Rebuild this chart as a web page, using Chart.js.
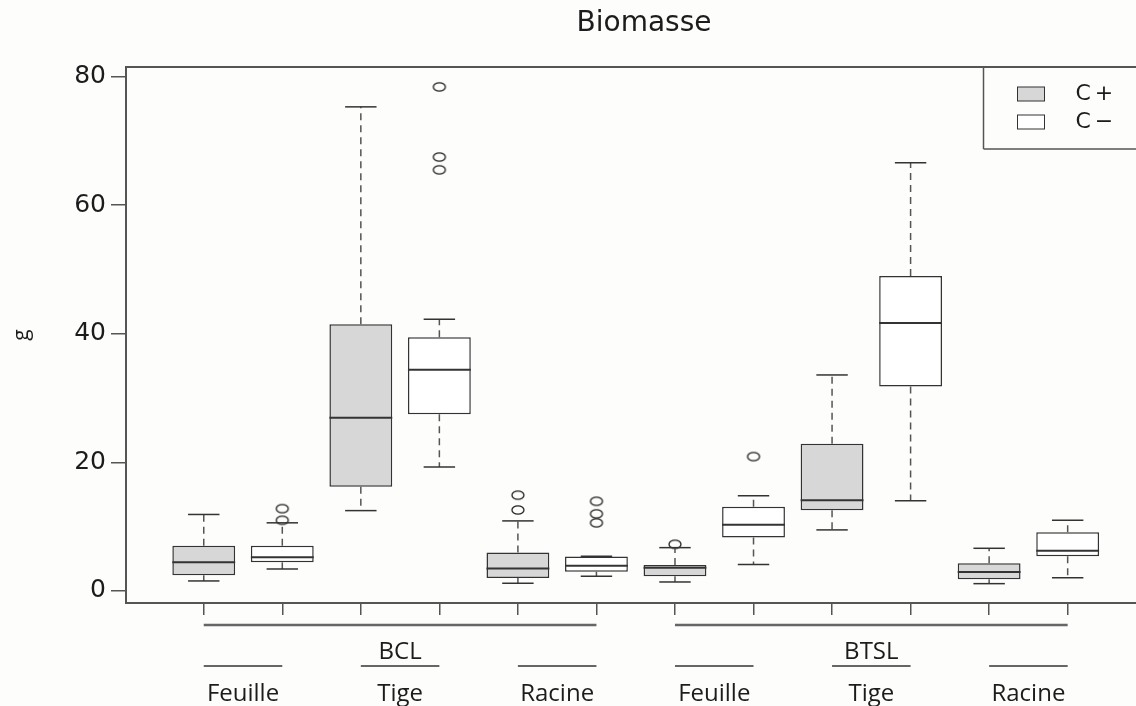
<!DOCTYPE html>
<html lang="fr">
<head>
<meta charset="UTF-8">
<title>Biomasse</title>
<style>
    body { margin: 0; background: #fdfdfc; }
    #chart { display: block; }
</style>
</head>
<body>
<canvas id="chart" width="1136" height="706"></canvas>
<script src="https://cdn.jsdelivr.net/npm/chart.js"></script>
<script>
// Sites, organs and treatments (boxes go site > organ > treatment along x)
const sites = ['BCL', 'BTSL'];
const organs = ['Feuille', 'Tige', 'Racine'];
const treatments = ['C+', 'C\u2212'];
const yTicks = [0, 20, 40, 60, 80];

// C+ : BCL Feuille, Tige, Racine, BTSL Feuille, Tige, Racine
const plusLow  = [1.56, 12.5, 1.2, 1.4, 9.5, 1.14];
const plusQ1   = [2.44, 16.2, 2.0, 2.28, 12.55, 1.82];
const plusMed  = [4.46, 26.95, 3.5, 3.62, 14.1, 2.95];
const plusQ3   = [7.05, 41.5, 6.0, 4.04, 22.9, 4.3];
const plusHigh = [11.9, 75.3, 10.9, 6.74, 33.6, 6.64];
const plusOut  = [[], [], [14.9, 12.6], [7.26], [], []];

// C- : same order
const minusLow  = [3.42, 19.3, 2.28, 4.1, 14.05, 2.07];
const minusQ1   = [4.46, 27.5, 3.0, 8.3, 31.8, 5.4];
const minusMed  = [5.24, 34.4, 3.94, 10.3, 41.7, 6.27];
const minusQ3   = [7.05, 39.45, 5.35, 13.1, 49.0, 9.13];
const minusHigh = [10.6, 42.25, 5.4, 14.8, 66.6, 11.0];
const minusOut  = [[12.8, 11.0], [78.4, 67.5, 65.5], [13.95, 12.0, 10.6], [20.9], [], []];

const fills = ['#d7d7d7', '#ffffff'];
const ink = '#1c1c1c';
const frameColor = '#555';

// x position of each box: 1..12
function boxPos(k, t) { return 1 + k * 2 + t; }

const series = [
    { low: plusLow, q1: plusQ1, med: plusMed, q3: plusQ3, high: plusHigh, out: plusOut },
    { low: minusLow, q1: minusQ1, med: minusMed, q3: minusQ3, high: minusHigh, out: minusOut }
];
series.forEach((s, t) => { s.pos = s.q1.map((_, k) => boxPos(k, t)); });

// open ellipse used for outliers
const ring = document.createElement('canvas');
ring.width = 16; ring.height = 12;
(function () {
    const c = ring.getContext('2d');
    c.strokeStyle = '#222';
    c.lineWidth = 1.3;
    c.beginPath();
    c.ellipse(8, 6, 6, 4.2, 0, 0, Math.PI * 2);
    c.stroke();
})();

const outliers = [];
series.forEach(s => s.out.forEach((vals, k) => vals.forEach(v => outliers.push({ x: s.pos[k], y: v }))));

const datasets = series.map((s, t) => ({
    type: 'bar',
    label: treatments[t],
    data: s.pos.map((p, k) => ({ x: p, y: [s.q1[k], s.q3[k]] })),
    backgroundColor: fills[t],
    borderColor: '#333',
    borderWidth: 1.5,
    borderSkipped: false,
    grouped: false,
    categoryPercentage: 1,
    barPercentage: 0.8
}));
datasets.push({
    type: 'scatter',
    label: 'outliers',
    data: outliers,
    pointStyle: ring,
    pointRadius: 6
});

function line(ctx, x1, y1, x2, y2) {
    ctx.beginPath();
    ctx.moveTo(x1, y1);
    ctx.lineTo(x2, y2);
    ctx.stroke();
}

// whiskers, staples, medians, frame, title, group labels and legend
const boxExtras = {
    id: 'boxExtras',
    afterDatasetsDraw(chart) {
        const { ctx, scales: { x, y } } = chart;
        const half = x.getPixelForValue(1.4) - x.getPixelForValue(1);
        const staple = half / 2;
        ctx.save();
        series.forEach(s => {
            s.pos.forEach((p, k) => {
                const cx = x.getPixelForValue(p);
                ctx.strokeStyle = frameColor;
                ctx.lineWidth = 1.5;
                ctx.setLineDash([7, 5]);
                line(ctx, cx, y.getPixelForValue(s.q3[k]), cx, y.getPixelForValue(s.high[k]));
                line(ctx, cx, y.getPixelForValue(s.q1[k]), cx, y.getPixelForValue(s.low[k]));
                ctx.setLineDash([]);
                ctx.strokeStyle = '#333';
                line(ctx, cx - staple, y.getPixelForValue(s.high[k]), cx + staple, y.getPixelForValue(s.high[k]));
                line(ctx, cx - staple, y.getPixelForValue(s.low[k]), cx + staple, y.getPixelForValue(s.low[k]));
                ctx.lineWidth = 2;
                line(ctx, cx - half, y.getPixelForValue(s.med[k]), cx + half, y.getPixelForValue(s.med[k]));
            });
        });
        ctx.restore();
    },
    afterDraw(chart) {
        const { ctx, chartArea: area, scales: { x } } = chart;
        ctx.save();
        // top edge of the plot frame
        ctx.strokeStyle = frameColor;
        ctx.lineWidth = 2;
        line(ctx, area.left - 1, area.top, area.right, area.top);

        // title
        ctx.fillStyle = ink;
        ctx.textAlign = 'center';
        ctx.textBaseline = 'alphabetic';
        ctx.font = '28px "DejaVu Sans"';
        ctx.fillText('Biomasse', 644, 31);

        // site and organ labels under the axis
        ctx.font = '24px "Open Sans"';
        ctx.strokeStyle = '#666';
        sites.forEach((site, g) => {
            const first = 1 + g * 6, last = first + 5;
            ctx.lineWidth = 2.5;
            line(ctx, x.getPixelForValue(first), 625, x.getPixelForValue(last), 625);
            ctx.fillText(site, x.getPixelForValue((first + last) / 2), 659);
            organs.forEach((organ, o) => {
                const a = first + o * 2;
                ctx.lineWidth = 2;
                line(ctx, x.getPixelForValue(a), 666, x.getPixelForValue(a + 1), 666);
                ctx.fillText(organ, x.getPixelForValue(a + 0.5), 701);
            });
        });

        // legend, open on the right like the frame
        const lx = area.right - 152.5, ly = area.top, lb = area.top + 82;
        ctx.strokeStyle = frameColor;
        ctx.lineWidth = 1.5;
        line(ctx, lx, ly, lx, lb);
        line(ctx, lx, lb, area.right, lb);
        ctx.font = '22px "DejaVu Sans"';
        ctx.letterSpacing = '4px';
        ctx.textAlign = 'left';
        ctx.textBaseline = 'middle';
        treatments.forEach((t, i) => {
            const ry = ly + 20 + i * 28;
            ctx.fillStyle = fills[i];
            ctx.fillRect(lx + 34, ry, 27, 14);
            ctx.strokeStyle = '#333';
            ctx.lineWidth = 1;
            ctx.strokeRect(lx + 34, ry, 27, 14);
            ctx.fillStyle = ink;
            ctx.fillText(t, lx + 92, ry + 7);
        });
        ctx.restore();
    }
};

new Chart(document.getElementById('chart'), {
    type: 'bar',
    data: { datasets },
    options: {
        responsive: false,
        animation: false,
        layout: { autoPadding: false, padding: { top: 67, left: 0, right: 0, bottom: 0 } },
        plugins: {
            legend: { display: false },
            tooltip: { enabled: false }
        },
        scales: {
            x: {
                type: 'linear',
                min: 0.01,
                max: 12.87,
                offset: false,
                afterBuildTicks: s => { s.ticks = series[0].pos.concat(series[1].pos).sort((a, b) => a - b).map(v => ({ value: v })); },
                afterFit: s => { s.height = 103; s.paddingLeft = 0; s.paddingRight = 0; },
                ticks: { display: false },
                grid: { offset: false, drawOnChartArea: false, tickLength: 12, color: frameColor, lineWidth: 1.5 },
                border: { color: frameColor, width: 2 }
            },
            y: {
                min: -1.87,
                max: 81.5,
                afterBuildTicks: s => { s.ticks = yTicks.map(v => ({ value: v })); },
                afterFit: s => { s.width = 126; s.paddingTop = 0; s.paddingBottom = 0; },
                ticks: { color: ink, padding: 5, font: { family: 'DejaVu Sans', size: 25 } },
                grid: { drawOnChartArea: false, tickLength: 15, color: frameColor, lineWidth: 1.5 },
                border: { color: frameColor, width: 2 },
                title: {
                    display: true,
                    text: 'g',
                    color: ink,
                    font: { family: 'Open Sans', size: 21 },
                    padding: { top: 9, bottom: 0 }
                }
            }
        }
    },
    plugins: [boxExtras]
});
</script>
</body>
</html>
